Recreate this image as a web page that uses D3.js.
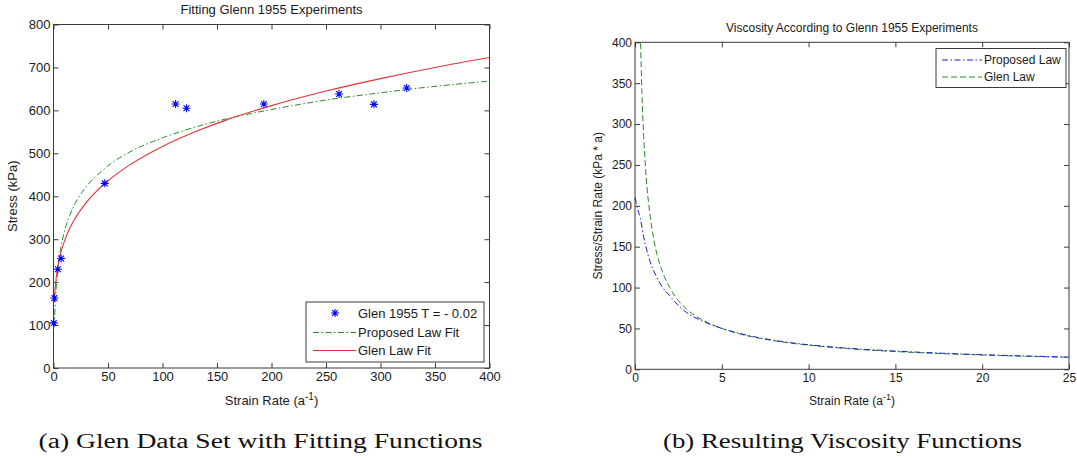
<!DOCTYPE html>
<html>
<head>
<meta charset="utf-8">
<script src="https://cdn.jsdelivr.net/npm/d3@7"></script>
<style>
  html, body { margin: 0; padding: 0; background: #fff; }
  svg { display: block; }
  text { font-family: "Liberation Sans", Arial, Helvetica, sans-serif; fill: #1a1a1a; }
  .cap { font-family: "Liberation Serif", "Times New Roman", serif; fill: #111; }
</style>
</head>
<body>
<svg id="chart" width="1077" height="458"></svg>
<script>
// ---------- Data ----------
// (a) Glen 1955 experimental points, T = -0.02
const glenPtRate   = [0.3, 0.8, 4, 7, 47, 112, 122, 193, 262, 294, 324];
const glenPtStress = [105, 163, 230, 255, 430, 615, 605, 615, 638, 614, 652];

// (a) Glen law fit (red, solid)
const glenFitRate   = [0.7, 1, 2, 3, 5, 7, 10, 15, 20, 30, 40, 50, 70, 100, 130, 160, 200, 250, 300, 350, 400];
const glenFitStress = [155, 169, 199, 220, 249, 271, 295, 326, 349, 385, 413, 436, 473, 516, 550, 579, 611, 645, 674, 700, 723];

// (a) Proposed law fit (green, dash-dot)
const propFitRate   = [0.2, 1, 2, 3, 5, 7, 10, 15, 20, 30, 40, 50, 70, 100, 130, 160, 200, 250, 300, 350, 400];
const propFitStress = [95, 120, 170, 203, 252, 284, 318, 356, 384, 422, 449, 471, 503, 536, 561, 581, 602, 624, 641, 656, 668];

// (b) Viscosity: proposed law (blue, dash-dot)
const propViscRate = [0, 0.15, 0.3, 0.5, 0.75, 1, 1.25, 1.5, 2, 2.5, 3, 4, 5, 6, 8, 10, 12, 15, 18, 21, 25];
const propVisc     = [210, 196, 185, 162, 140, 124, 113, 103, 90, 78, 69, 58, 50, 44, 35.5, 30, 26.2, 22.3, 19.4, 17.2, 14.9];

// (b) Viscosity: Glen law (green, dashed)
const glenViscRate = [0.32, 0.4, 0.5, 0.6, 0.8, 1, 1.25, 1.5, 2, 2.5, 3, 4, 5, 6, 8, 10, 12, 15, 18, 21, 25];
const glenVisc     = [399, 337, 285, 248, 200, 169, 142, 124, 100, 84, 73, 59, 50, 43.4, 35, 29.5, 25.7, 21.7, 18.9, 16.8, 14.7];

// Tick values
const aXTicks = [0, 50, 100, 150, 200, 250, 300, 350, 400];
const aYTicks = [0, 100, 200, 300, 400, 500, 600, 700, 800];
const bXTicks = [0, 5, 10, 15, 20, 25];
const bYTicks = [0, 50, 100, 150, 200, 250, 300, 350, 400];

// Text
const aTitle = "Fitting Glenn 1955 Experiments";
const bTitle = "Viscosity According to Glenn 1955 Experiments";
const aYLabel = "Stress (kPa)";
const bYLabel = "Stress/Strain Rate (kPa * a)";
const aLegend = ["Glen 1955 T = - 0.02", "Proposed Law Fit", "Glen Law Fit"];
const bLegend = ["Proposed Law", "Glen Law"];
const capA = "(a) Glen Data Set with Fitting Functions";
const capB = "(b) Resulting Viscosity Functions";

// ---------- Styles ----------
const RED = "#e5323c", GREEN = "#2b8a2b", BLUE = "#1c1cd0", STAR = "#0000ff", FRAME = "#3a3a3a";
const DASHDOT = "6,2.5,1.5,2.5", DASHED = "6,3";

const svg = d3.select("#chart");
svg.append("rect").attr("width", 1077).attr("height", 458).attr("fill", "#fff");

function panel(opt) {
  const g = svg.append("g");
  const x = d3.scaleLinear().domain(opt.xDom).range([opt.l, opt.r]);
  const y = d3.scaleLinear().domain(opt.yDom).range([opt.b, opt.t]);
  const fs = opt.fs;

  const styleAxis = sel => {
    sel.select(".domain").remove();
    sel.selectAll(".tick line").attr("stroke", FRAME);
    sel.selectAll(".tick text").style("font-size", fs + "px").attr("fill", "#1a1a1a");
  };
  g.append("g").attr("transform", `translate(0,${opt.b})`)
    .call(d3.axisBottom(x).tickValues(opt.xTicks).tickSizeInner(-5).tickSizeOuter(0).tickPadding(4))
    .call(styleAxis);
  g.append("g").attr("transform", `translate(0,${opt.t})`)
    .call(d3.axisTop(x).tickValues(opt.xTicks).tickSizeInner(-5).tickSizeOuter(0).tickFormat(""))
    .call(styleAxis);
  g.append("g").attr("transform", `translate(${opt.l},0)`)
    .call(d3.axisLeft(y).tickValues(opt.yTicks).tickSizeInner(-5).tickSizeOuter(0).tickPadding(3))
    .call(styleAxis);
  g.append("g").attr("transform", `translate(${opt.r},0)`)
    .call(d3.axisRight(y).tickValues(opt.yTicks).tickSizeInner(-5).tickSizeOuter(0).tickFormat(""))
    .call(styleAxis);

  g.append("rect").attr("x", opt.l).attr("y", opt.t)
    .attr("width", opt.r - opt.l).attr("height", opt.b - opt.t)
    .attr("fill", "none").attr("stroke", FRAME).attr("stroke-width", 1);

  // title
  g.append("text").attr("x", (opt.l + opt.r) / 2).attr("y", opt.titleY)
    .attr("text-anchor", "middle").style("font-size", fs + "px").text(opt.title);

  // x label with superscript
  const xl = g.append("text").attr("x", (opt.l + opt.r) / 2).attr("y", opt.xLabelY)
    .attr("text-anchor", "middle").style("font-size", fs + "px");
  xl.append("tspan").text("Strain Rate (a");
  xl.append("tspan").attr("dy", -5).style("font-size", (fs - 3) + "px").text("-1");
  xl.append("tspan").attr("dy", 5).text(")");

  // y label
  g.append("text").attr("transform", `translate(${opt.yLabelX},${(opt.t + opt.b) / 2}) rotate(-90)`)
    .attr("text-anchor", "middle").style("font-size", fs + "px").text(opt.yLabel);

  return { g, x, y };
}

function starPath(cx, cy, r) {
  const d = r * 0.72;
  return `M${cx - r},${cy}L${cx + r},${cy}M${cx},${cy - r}L${cx},${cy + r}` +
         `M${cx - d},${cy - d}L${cx + d},${cy + d}M${cx - d},${cy + d}L${cx + d},${cy - d}`;
}

// ---------- Panel (a) ----------
const A = panel({
  xDom: [0, 400], yDom: [0, 800], l: 53.5, r: 489.5, t: 24.5, b: 368,
  xTicks: aXTicks, yTicks: aYTicks, fs: 13,
  title: aTitle, titleY: 14, xLabelY: 405, yLabelX: 17, yLabel: aYLabel
});
const lineA = (xs, ys) => d3.line().curve(d3.curveMonotoneX)
  .x((d, i) => A.x(xs[i])).y((d, i) => A.y(ys[i]))(xs);

A.g.append("path").attr("d", lineA(propFitRate, propFitStress))
  .attr("fill", "none").attr("stroke", GREEN).attr("stroke-width", 1).attr("stroke-dasharray", DASHDOT);
A.g.append("path").attr("d", lineA(glenFitRate, glenFitStress))
  .attr("fill", "none").attr("stroke", RED).attr("stroke-width", 1.1);
A.g.selectAll("path.star").data(glenPtRate).enter().append("path").attr("class", "star")
  .attr("d", (d, i) => starPath(A.x(d), A.y(glenPtStress[i]), 4))
  .attr("stroke", STAR).attr("stroke-width", 1.1).attr("fill", "none");

// legend (a)
const la = A.g.append("g");
la.append("rect").attr("x", 306).attr("y", 302).attr("width", 178).attr("height", 60)
  .attr("fill", "#fff").attr("stroke", FRAME).attr("stroke-width", 1);
la.append("path").attr("d", starPath(335, 313, 4)).attr("stroke", STAR).attr("stroke-width", 1.1).attr("fill", "none");
la.append("line").attr("x1", 313).attr("x2", 356).attr("y1", 332.5).attr("y2", 332.5)
  .attr("stroke", GREEN).attr("stroke-dasharray", DASHDOT);
la.append("line").attr("x1", 313).attr("x2", 356).attr("y1", 350.5).attr("y2", 350.5)
  .attr("stroke", RED).attr("stroke-width", 1.1);
[313, 332.5, 350.5].forEach((yy, i) => {
  la.append("text").attr("x", 358).attr("y", yy).attr("dy", "0.35em")
    .style("font-size", "13px").text(aLegend[i]);
});

// ---------- Panel (b) ----------
const B = panel({
  xDom: [0, 25], yDom: [0, 400], l: 635, r: 1069, t: 42.3, b: 369.3,
  xTicks: bXTicks, yTicks: bYTicks, fs: 12,
  title: bTitle, titleY: 32, xLabelY: 405, yLabelX: 602, yLabel: bYLabel
});
const lineB = (xs, ys) => d3.line().curve(d3.curveMonotoneX)
  .x((d, i) => B.x(xs[i])).y((d, i) => B.y(ys[i]))(xs);

B.g.append("path").attr("d", lineB(glenViscRate, glenVisc))
  .attr("fill", "none").attr("stroke", GREEN).attr("stroke-width", 1).attr("stroke-dasharray", DASHED);
B.g.append("path").attr("d", lineB(propViscRate, propVisc))
  .attr("fill", "none").attr("stroke", BLUE).attr("stroke-width", 1).attr("stroke-dasharray", DASHDOT);

// legend (b)
const lb = B.g.append("g");
lb.append("rect").attr("x", 936).attr("y", 48.5).attr("width", 130).attr("height", 39)
  .attr("fill", "#fff").attr("stroke", FRAME).attr("stroke-width", 1);
lb.append("line").attr("x1", 942).attr("x2", 982).attr("y1", 60).attr("y2", 60)
  .attr("stroke", BLUE).attr("stroke-dasharray", DASHDOT);
lb.append("line").attr("x1", 942).attr("x2", 982).attr("y1", 77).attr("y2", 77)
  .attr("stroke", GREEN).attr("stroke-dasharray", DASHED);
[60, 77].forEach((yy, i) => {
  lb.append("text").attr("x", 984).attr("y", yy).attr("dy", "0.35em")
    .style("font-size", "12px").text(bLegend[i]);
});

// ---------- Captions ----------
svg.append("text").attr("class", "cap").attr("x", 38.5).attr("y", 448)
  .attr("textLength", 444).attr("lengthAdjust", "spacingAndGlyphs")
  .style("font-size", "20px").text(capA);
svg.append("text").attr("class", "cap").attr("x", 663).attr("y", 448)
  .attr("textLength", 359).attr("lengthAdjust", "spacingAndGlyphs")
  .style("font-size", "20px").text(capB);
</script>
</body>
</html>
